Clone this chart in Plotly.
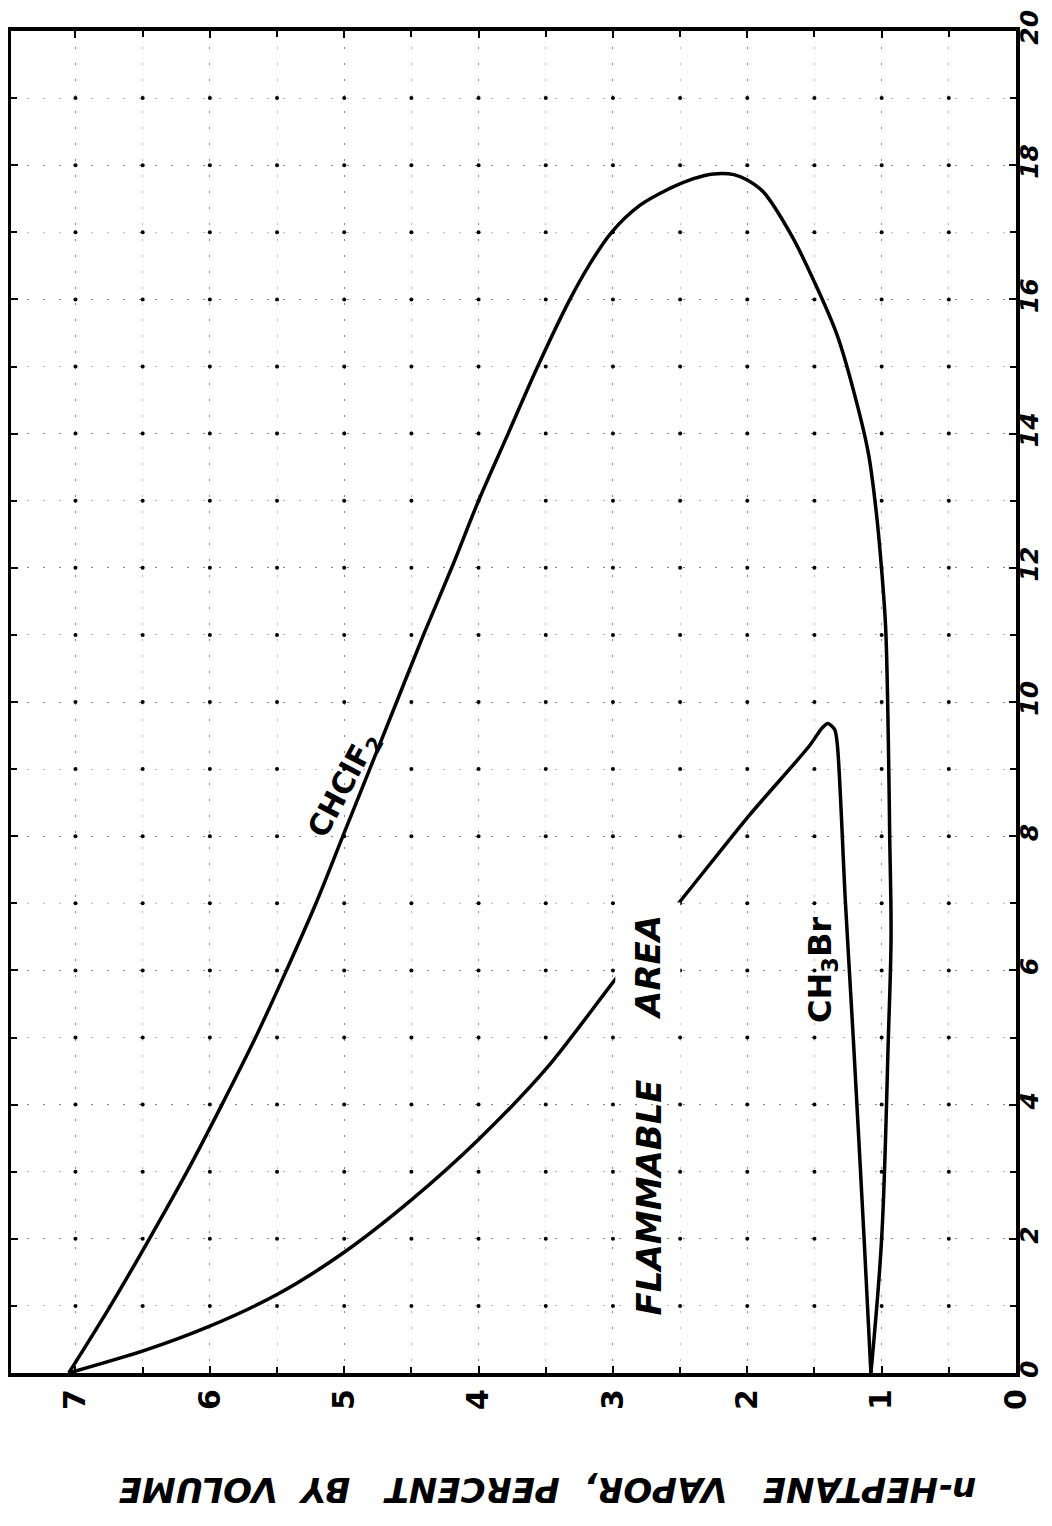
import numpy as np
import plotly.graph_objects as go

# ---- data (n-heptane vapor %, inert gas %) ----
chclf2_heptane = [7.05, 6.74, 6.45, 6.17, 5.91, 5.66, 5.43, 5.21, 5.01, 4.81, 4.61, 4.41,
                  4.20, 4.00, 3.78, 3.56, 3.32, 3.18, 3.01, 2.80, 2.58, 2.40, 2.25, 2.10,
                  2.00, 1.88, 1.67, 1.51, 1.33, 1.20, 1.10, 1.04, 1.00, 0.97, 0.95, 0.94,
                  0.93, 0.95, 1.00, 1.08]
chclf2_inert = [0, 1, 2, 3, 4, 5, 6, 7, 8, 9, 10, 11,
                12, 13, 14, 15, 16, 16.5, 17, 17.4, 17.65, 17.8, 17.87, 17.86,
                17.78, 17.6, 16.95, 16.3, 15.46, 14.57, 13.72, 12.83, 11.97, 11.1, 9.4, 8.0,
                6.5, 5.0, 2.0, 0]

ch3br_heptane = [7.05, 6.48, 6.01, 5.49, 5.00, 4.50, 4.00, 3.49, 2.93, 2.54, 1.99, 1.54,
                 1.44, 1.40, 1.35, 1.33, 1.27, 1.21, 1.13, 1.08]
ch3br_inert = [0, 0.34, 0.69, 1.18, 1.80, 2.58, 3.48, 4.55, 6.0, 6.93, 8.30, 9.34,
               9.62, 9.68, 9.59, 9.37, 7.03, 4.95, 1.98, 0]

heptane_ticks = [0, 1, 2, 3, 4, 5, 6, 7]
inert_ticks = [0, 2, 4, 6, 8, 10, 12, 14, 16, 18, 20]

FONT = "DejaVu Sans"

fig = go.Figure()

# grid intersection dots
gx, gy = np.meshgrid(np.arange(0.5, 7.01, 0.5), np.arange(1, 20, 1))
fig.add_trace(go.Scatter(x=gx.ravel(), y=gy.ravel(), mode="markers",
                         marker=dict(size=4, color="black"), hoverinfo="skip",
                         showlegend=False))

fig.add_trace(go.Scatter(x=chclf2_heptane, y=chclf2_inert, mode="lines",
                         line=dict(color="black", width=3.5, shape="spline", smoothing=1.0),
                         showlegend=False, name="CHClF2"))
fig.add_trace(go.Scatter(x=ch3br_heptane, y=ch3br_inert, mode="lines",
                         line=dict(color="black", width=3.5, shape="spline", smoothing=0.8),
                         showlegend=False, name="CH3Br"))

grid_style = dict(gridcolor="rgba(0,0,0,0.28)", griddash="2px,14px", gridwidth=1)

fig.update_xaxes(range=[7.48, 0], tickvals=heptane_ticks, ticktext=[str(v) for v in heptane_ticks],
                 ticks="inside", ticklen=7, tickwidth=2, tickcolor="black",
                 minor=dict(dtick=0.5, tick0=0, ticks="inside", ticklen=6, tickwidth=2,
                            tickcolor="black", showgrid=True, **grid_style),
                 showgrid=True, **grid_style,
                 showline=True, linewidth=4, linecolor="black", mirror="ticks",
                 zeroline=False, tickangle=-90, automargin=False, ticklabeloverflow="allow",
                 tickfont=dict(family=FONT, size=30, color="black", weight="bold"))
fig.update_yaxes(range=[0, 20], tickvals=inert_ticks, ticktext=[str(v) for v in inert_ticks],
                 side="right",
                 ticks="inside", ticklen=7, tickwidth=2, tickcolor="black",
                 minor=dict(dtick=1, tick0=0, ticks="inside", ticklen=6, tickwidth=2,
                            tickcolor="black", showgrid=True, **grid_style),
                 showgrid=True, **grid_style,
                 showline=True, linewidth=4, linecolor="black", mirror="ticks",
                 zeroline=False, tickangle=-90, automargin=False, ticklabelstandoff=-12,
                 ticklabeloverflow="allow",
                 tickfont=dict(family=FONT, size=25, color="black", weight="bold", style="italic"))

lab = dict(family=FONT, color="black", weight="bold")
fig.add_annotation(x=5.0, y=8.76, text="CHClF<sub>2</sub>", showarrow=False, textangle=-62,
                   font=dict(size=30, **lab))
fig.add_annotation(x=2.73, y=2.62, text="FLAMMABLE", showarrow=False, textangle=-90,
                   font=dict(size=34, style="italic", **lab))
fig.add_annotation(x=2.74, y=6.05, text="AREA", showarrow=False, textangle=-90,
                   bgcolor="white", borderpad=12,
                   font=dict(size=34, style="italic", **lab))
fig.add_annotation(x=1.44, y=6.0, text="CH<sub>3</sub>Br", showarrow=False, textangle=-90,
                   font=dict(size=32, **lab))
fig.add_annotation(xref="paper", yref="paper", x=0.534, y=-0.087,
                   text="n-HEPTANE&nbsp;&nbsp;&nbsp;VAPOR,&nbsp;&nbsp;PERCENT&nbsp;&nbsp;&nbsp;BY&nbsp;&nbsp;VOLUME",
                   showarrow=False, textangle=180, xanchor="center", yanchor="middle",
                   font=dict(size=34, style="italic", **lab))

# the page body keeps an 8px margin; size the figure so the page needs no scrollbars
fig.update_layout(width=1036, height=1510, plot_bgcolor="white", paper_bgcolor="white",
                  margin=dict(l=3, r=28, t=23, b=145), showlegend=False)

fig.write_html("out.html")
